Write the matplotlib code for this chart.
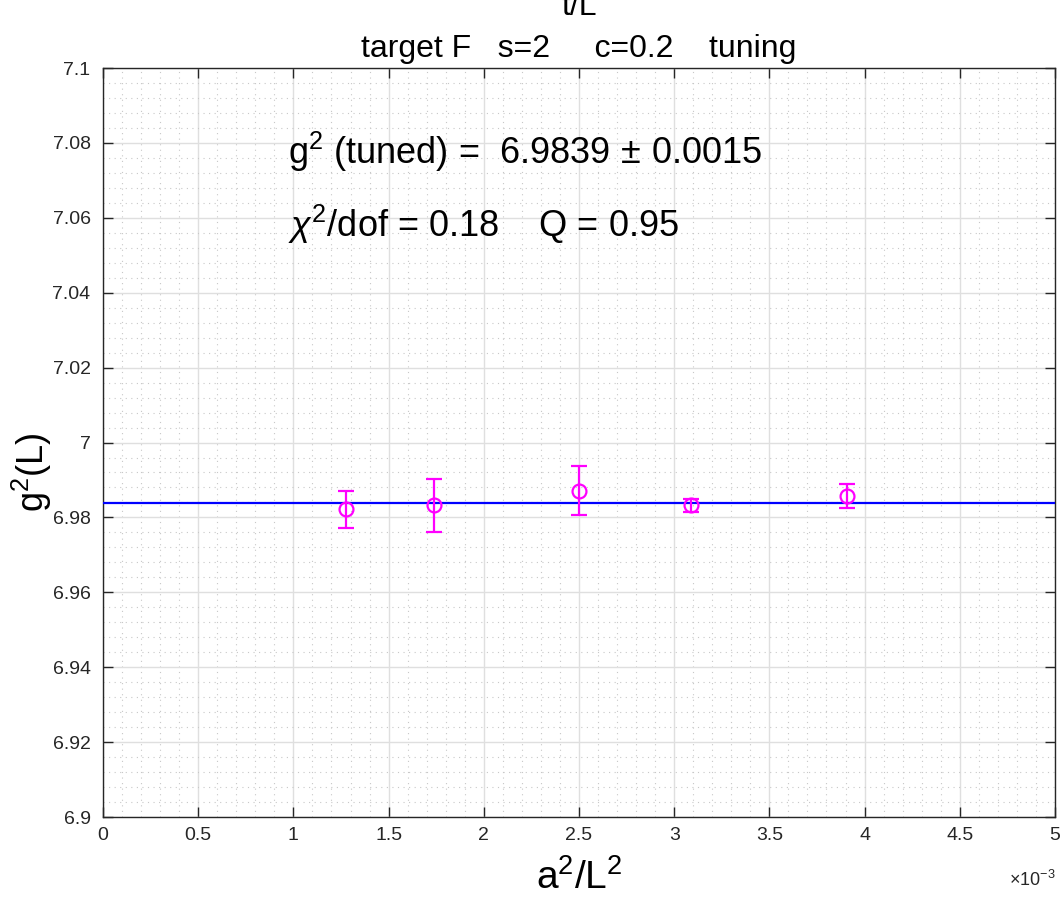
import numpy as np
import matplotlib
matplotlib.use("Agg")
import matplotlib.pyplot as plt
from matplotlib.ticker import MultipleLocator, FuncFormatter

plt.rcParams['font.family'] = ['Liberation Sans', 'DejaVu Sans']
plt.rcParams['mathtext.fontset'] = 'custom'
plt.rcParams['mathtext.rm'] = 'Liberation Sans'
plt.rcParams['mathtext.it'] = 'Liberation Sans:italic'

# data
a2_L2 = [1.2755e-3, 1.7361e-3, 2.5000e-3, 3.0864e-3, 3.9063e-3]
g2 = [6.9822, 6.9832, 6.9871, 6.9832, 6.9857]
g2_err = [0.0049, 0.0070, 0.0065, 0.0017, 0.0033]
g2_tuned = 6.9839

fig = plt.figure(figsize=(10.61, 9.01), dpi=100)
ax = fig.add_axes([0.0971, 0.0932, 0.8972, 0.8313])

axis_col = '#262626'

ax.set_xlim(0, 5e-3)
ax.set_ylim(6.9, 7.1)
ax.xaxis.set_major_locator(MultipleLocator(0.5e-3))
ax.xaxis.set_minor_locator(MultipleLocator(0.1e-3))
ax.yaxis.set_major_locator(MultipleLocator(0.02))
ax.yaxis.set_minor_locator(MultipleLocator(0.004))
ax.xaxis.set_major_formatter(FuncFormatter(lambda v, p: f"{v*1e3:g}"))
ax.yaxis.set_major_formatter(FuncFormatter(lambda v, p: f"{round(v, 3):g}"))

ax.grid(True, which='major', color='#dfdfdf', lw=1.0, ls='-')
ax.grid(True, which='minor', color='#c8c8c8', lw=0.8, ls=(0, (1, 4)))
ax.set_axisbelow(True)

ax.tick_params(which='both', direction='in', top=True, right=True,
               colors=axis_col, labelsize=14)
ax.tick_params(axis='y', which='major', pad=9)
ax.tick_params(axis='x', which='major', pad=7)
ax.tick_params(which='major', length=7, width=1.0)
ax.tick_params(which='minor', length=0)
for s in ax.spines.values():
    s.set_color(axis_col)
    s.set_linewidth(1.0)

ax.axhline(g2_tuned, color='blue', lw=1.6, zorder=3)
ax.errorbar(a2_L2, g2, yerr=g2_err, fmt='o', mfc='none', mec='magenta',
            ecolor='magenta', color='magenta', ms=10, mew=1.6,
            elinewidth=1.6, capsize=6, capthick=1.6, zorder=4)

ax.text(0.97e-3, 7.0777, r'g$^2$ (tuned) =  6.9839$\,\pm\,$0.0015',
        fontsize=26, color='black', va='center')
ax.text(0.97e-3, 7.0583, r'$\chi^2$/dof = 0.18    Q = 0.95',
        fontsize=26, color='black', va='center')

ax.set_title('t/L\ntarget F   s=2     c=0.2    tuning', fontsize=23,
             color='black', pad=8, linespacing=1.5)
ax.set_xlabel(r'a$^2$/L$^2$', fontsize=28, labelpad=11)
ax.set_ylabel(r'g$^2$(L)', fontsize=26)
ax.yaxis.set_label_coords(-0.052, 0.46)

fig.text(0.995, 0.023, r'$\times10^{-3}$', fontsize=13, ha='right',
         va='center', color=axis_col)

fig.savefig('out.png', dpi=100)
